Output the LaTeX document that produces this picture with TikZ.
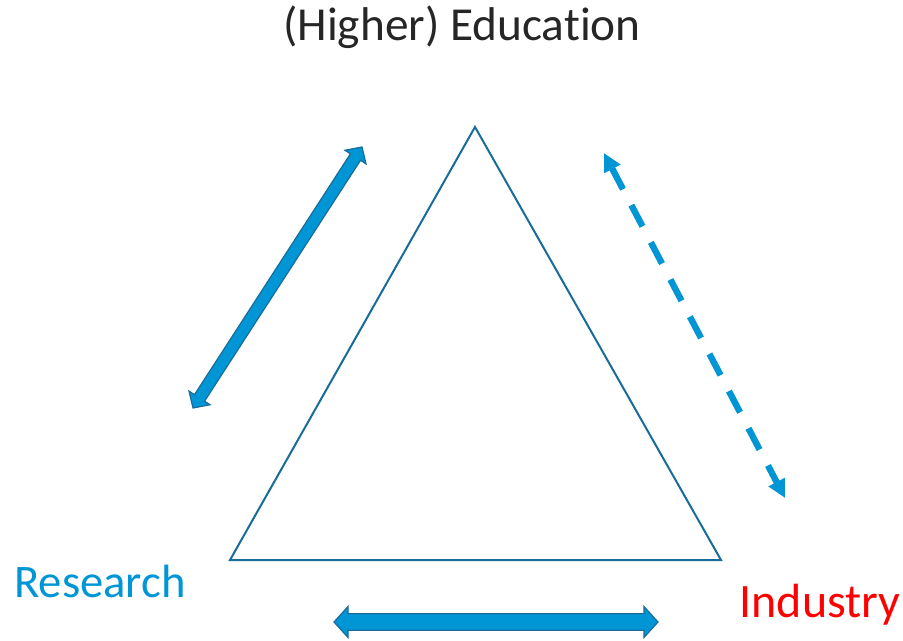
\documentclass[tikz,border=0pt]{standalone}
\usepackage{fontspec}
\setmainfont[Ligatures=NoCommon]{Carlito}
\usetikzlibrary{calc,arrows.meta}

\definecolor{linkblue}{RGB}{0,150,214}
\definecolor{edgeblue}{RGB}{24,108,154}
\definecolor{textgray}{RGB}{38,38,38}
\definecolor{indred}{RGB}{255,0,0}

\tikzset{
  corner/.style={inner sep=0pt,anchor=base},
  blockarrow/.style={draw=edgeblue,fill=linkblue,line width=0.9pt,line join=miter},
  loosearrow/.style={linkblue,line width=4.8pt,dash pattern=on 18pt off 13.5pt,
    {Triangle[length=13.5pt,width=13pt]}-{Triangle[length=13.5pt,width=13pt]}}
}

% two-headed block arrow between named points
% #1,#2 tips, #3 half shaft, #4 half head, #5 head length
\newcommand{\blockarrow}[5]{%
  \coordinate (#1 base) at ($(#1)!#5!(#2)$);
  \coordinate (#2 base) at ($(#2)!#5!(#1)$);
  \draw[blockarrow] (#1)
    -- ($(#1 base)!#4!90:(#2)$) -- ($(#1 base)!#3!90:(#2)$)
    -- ($(#2 base)!#3!-90:(#1)$) -- ($(#2 base)!#4!-90:(#1)$)
    -- (#2)
    -- ($(#2 base)!#4!90:(#1)$) -- ($(#2 base)!#3!90:(#1)$)
    -- ($(#1 base)!#3!-90:(#2)$) -- ($(#1 base)!#4!-90:(#2)$)
    -- cycle;}

\begin{document}
\begin{tikzpicture}[x=0.75pt,y=0.75pt]
  \useasboundingbox (0,0) rectangle (903,640);

  % the triangle
  \coordinate (edu) at (475,513);
  \coordinate (res) at (230,80);
  \coordinate (ind) at (721,80);
  \draw[edgeblue,line width=1.5pt,line join=miter] (edu) -- (res) -- (ind) -- cycle;

  % labels
  \node[corner,textgray,font=\fontsize{35.5}{42}\selectfont] (edulabel) at (462,599) {(Higher) Education};
  \node[corner,linkblue,font=\fontsize{35}{42}\selectfont] (reslabel) at (100,43) {Research};
  \node[corner,indred,font=\fontsize{36}{43}\selectfont] (indlabel) at (820,23) {Industry};

  % links along the sides
  \coordinate (re low) at (193,232);
  \coordinate (re up) at (362,493);
  \blockarrow{re low}{re up}{4.5pt}{9.4pt}{9pt}

  \coordinate (ri left) at (334,18);
  \coordinate (ri right) at (658,18);
  \blockarrow{ri left}{ri right}{6.2pt}{11.6pt}{10.5pt}

  \coordinate (ei up) at (604,487);
  \coordinate (ei low) at (785,142);
  \draw[loosearrow] (ei up) -- (ei low);
\end{tikzpicture}
\end{document}
